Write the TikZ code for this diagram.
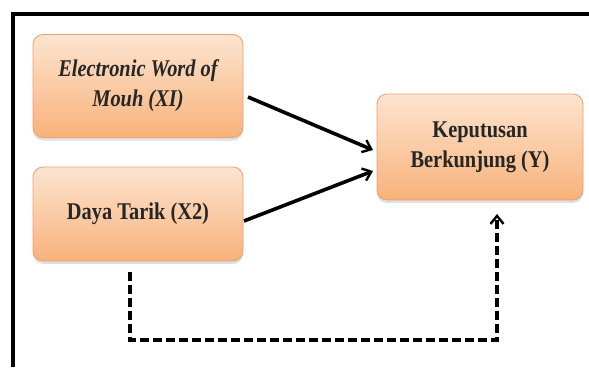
\documentclass[tikz,border=0pt]{standalone}
\usepackage{fontspec}
\setmainfont{Liberation Serif}
\newfontfamily\boxfont[FakeStretch=0.85]{Liberation Serif}
\usetikzlibrary{arrows.meta,shadows}
\definecolor{boxtop}{HTML}{FCE4D0}
\definecolor{boxbot}{HTML}{F8B27A}
\definecolor{boxline}{HTML}{E8A070}
\tikzset{
  varbox/.style={draw=boxline, line width=0.8pt, rounded corners=10pt,
    top color=boxtop, bottom color=boxbot, align=center,
    font=\boxfont\fontsize{24}{30}\selectfont\bfseries, text=black!85,
    drop shadow={shadow xshift=0pt, shadow yshift=-3pt, fill=gray!40, opacity=0.6}},
  solidarrow/.style={line width=3.6pt, -{Straight Barb[length=8pt,width=13pt,line width=2.4pt]}},
  dasharrow/.style={line width=3.4pt, dash pattern=on 9pt off 4pt, -{Straight Barb[length=8pt,width=13pt,line width=2.4pt]}}
}
\begin{document}
\begin{tikzpicture}[x=1pt,y=-1pt]
\useasboundingbox (0,0) rectangle (589,367);
\draw[line width=4pt] (13,367) -- (13,14) -- (589,14);
\node[varbox, minimum width=210pt, minimum height=103pt] (x1) at (138,86)
  {\itshape Electronic Word of\\\itshape Mouh (XI)};
\node[varbox, minimum width=210pt, minimum height=94pt] (x2) at (138,214)
  {Daya Tarik (X2)};
\node[varbox, minimum width=206pt, minimum height=106pt] (y) at (480,147)
  {Keputusan\\Berkunjung (Y)};
\coordinate (c1) at (130,340);
\coordinate (c2) at (497,340);
\draw[solidarrow] (248,97) -- (373,150);
\draw[solidarrow] (244,221) -- (373,171);
\draw[dasharrow] (130,272) -- (c1) -- (c2) -- (497,214);
\end{tikzpicture}
\end{document}
